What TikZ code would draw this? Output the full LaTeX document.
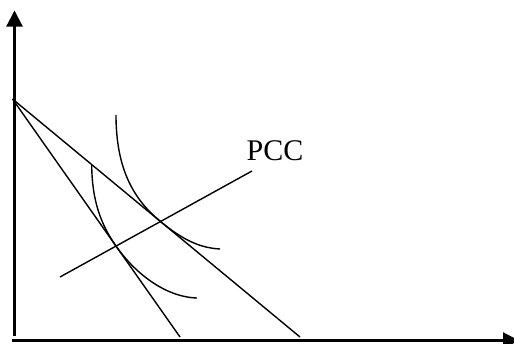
\documentclass[tikz,border=0pt]{standalone}
\usepackage{fontspec}
\setmainfont{Liberation Serif}
\usetikzlibrary{arrows.meta}

\begin{document}
\begin{tikzpicture}[x=1pt, y=-1pt,
        axis/.style={-{Triangle[length=16pt, width=16pt]}, line width=2.2pt},
        budget/.style={line width=1.4pt},
        indiff/.style={line width=1.4pt},
        pccline/.style={line width=1.4pt},
        lbl/.style={font=\fontsize{30}{36}\selectfont, inner sep=0pt}
    ]
        \useasboundingbox (0,0) rectangle (514,343);

        % --- axes ---
        \coordinate (ybot)   at (14.5,336);
        \coordinate (ytop)   at (14.5,10.5);
        \coordinate (xleft)  at (12,340.5);
        \coordinate (xright) at (519,340.5);
        \draw[axis] (ybot) -- (ytop);
        \draw[axis] (xleft) -- (xright);

        % --- budget lines ---
        \coordinate (A)  at (12.5,99);
        \coordinate (B1) at (180,337);
        \coordinate (B2) at (300,337);
        \draw[budget] (A) -- (B1);
        \draw[budget] (A) -- (B2);

        % --- price consumption curve ---
        \coordinate (P1) at (60,277);
        \coordinate (P2) at (252,171);
        \draw[pccline] (P1) -- (P2);
        \node[lbl] (pcclbl) at (275,151) {PCC};

        % --- indifference curves, tangent where PCC cuts the budget lines ---
        \coordinate (T1) at (intersection of A--B2 and P1--P2);
        \coordinate (T2) at (intersection of A--B1 and P1--P2);
        \draw[indiff] (116,115) .. controls (116,168) and (133,199) .. (T1)
            .. controls (188,244.3) and (205,248) .. (220,249);
        \draw[indiff] (91.7,165) .. controls (92,200) and (100.5,224) .. (T2)
            .. controls (135,273.1) and (165,297) .. (197,298);

    \end{tikzpicture}
\end{document}
